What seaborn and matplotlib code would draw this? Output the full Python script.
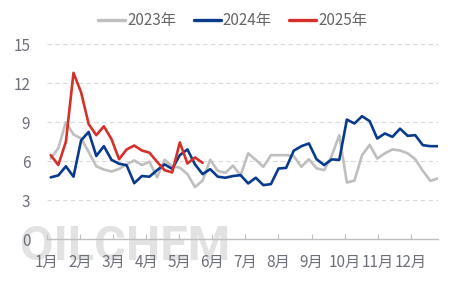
import numpy as np
import pandas as pd
import matplotlib
matplotlib.use("Agg")
import matplotlib.pyplot as plt
import seaborn as sns

# ---- data ----
month_labels = [f"{m}月" for m in range(1, 13)]
series_names = ["2023年", "2024年", "2025年"]

v2023 = [6.2, 7.0, 9.0, 8.05, 7.75, 6.7, 5.6, 5.35, 5.2, 5.4,
         5.75, 6.05, 5.7, 5.95, 4.75, 6.1, 5.6, 5.5, 5.0, 4.0,
         4.5, 6.1, 5.25, 5.1, 5.65, 4.9, 6.6, 6.1, 5.56, 6.46,
         6.46, 6.46, 6.4, 5.56, 6.15, 5.45, 5.3, 6.4, 8.0, 4.35,
         4.5, 6.46, 7.25, 6.2, 6.6, 6.9, 6.82, 6.6, 6.15, 5.25,
         4.48, 4.67]
v2024 = [4.75, 4.9, 5.6, 4.8, 7.6, 8.25, 6.4, 7.15, 6.1, 5.8,
         5.68, 4.3, 4.85, 4.8, 5.3, 5.75, 5.4, 6.46, 6.9, 5.75,
         5.0, 5.38, 4.8, 4.72, 4.85, 4.92, 4.28, 4.72, 4.15, 4.23,
         5.43, 5.48, 6.8, 7.15, 7.36, 6.15, 5.7, 6.13, 6.1, 9.2,
         8.9, 9.46, 9.08, 7.74, 8.13, 7.87, 8.5, 7.95, 8.0, 7.23,
         7.15, 7.15]
v2025 = [6.46, 5.7, 7.5, 12.8, 11.3, 8.85, 8.0, 8.68, 7.7, 6.15,
         6.9, 7.2, 6.82, 6.65, 5.95, 5.3, 5.13, 7.44, 5.82, 6.28,
         5.87]
y_ticks = [0, 3, 6, 9, 12, 15]

colors = {"2023年": "#BFBFBF", "2024年": "#0A3A8C", "2025年": "#D6302A"}

df = pd.concat(
    [pd.DataFrame({"week": np.arange(len(v)), "value": v, "year": n})
     for n, v in zip(series_names, [v2023, v2024, v2025])],
    ignore_index=True,
)

sns.set_theme(style="white")
plt.rcParams["font.family"] = ["Noto Sans CJK SC", "DejaVu Sans"]

W, H = 463, 288
fig = plt.figure(figsize=(W / 100, H / 100), dpi=100)
ymax = 15.2
top_px = 239 - ymax * 12.98
ax = fig.add_axes([47 / W, 1 - 239 / H, (438 - 47) / W, (239 - top_px) / H])

sns.lineplot(data=df, x="week", y="value", hue="year", hue_order=series_names,
             palette=colors, linewidth=1.9, ax=ax, legend=True)

# watermark
ax.text(20 / W, 1 - 260 / H, "OILCHEM", transform=fig.transFigure,
        fontsize=35, family="Roboto", fontweight="bold", color="#E2E2E2",
        ha="left", va="baseline", zorder=0.5, clip_on=False)

ax.set_xlim(-0.48, 51.0)
ax.set_ylim(0, ymax)
ax.set_yticks(y_ticks)
ax.set_yticklabels([str(t) for t in y_ticks])
ax.set_xticks([-0.49 + 4.355 * k for k in range(12)])
ax.set_xticklabels(month_labels)
ax.set_xlabel("")
ax.set_ylabel("")

for s in ["top", "right", "left"]:
    ax.spines[s].set_visible(False)
ax.spines["bottom"].set_color("#BFBFBF")
ax.spines["bottom"].set_linewidth(1.0)

ax.yaxis.grid(True, linestyle=(0, (4, 3)), color="#D9D9D9", linewidth=0.8)
ax.xaxis.grid(False)
ax.tick_params(axis="y", length=0, pad=12, labelsize=11, labelcolor="#6E7079")
ax.tick_params(axis="x", direction="in", length=3.6, width=0.8, color="#BFBFBF",
               pad=11, labelsize=11, labelcolor="#6E7079", bottom=True)

handles, labels = ax.get_legend_handles_labels()
ax.get_legend().remove()
leg = fig.legend(handles, labels, loc="center", bbox_to_anchor=(0.503, 1 - 21 / H),
                 ncol=3, frameon=False, fontsize=11, handlelength=1.75,
                 handletextpad=0.15, columnspacing=1.15)
for line in leg.get_lines():
    line.set_linewidth(2.4)
for t in leg.get_texts():
    t.set_color("#666666")

fig.savefig("out.png", dpi=100)
